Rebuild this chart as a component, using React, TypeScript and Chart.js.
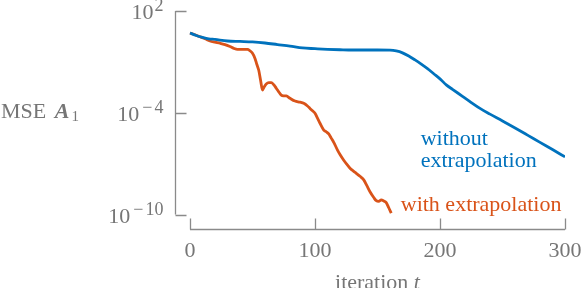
import React, { useEffect, useRef } from "react";
import { Chart, registerables } from "chart.js";

Chart.register(...registerables);

// iteration t and MSE for the run "with extrapolation"
const T_WITH = [0, 4, 8, 12, 16, 20, 24, 28, 32, 35, 38, 42, 46, 48, 50, 52, 53.5, 55, 56.5, 58, 59.5, 61, 63, 65, 67, 69, 71, 73, 75, 77, 80, 84, 88, 91, 94, 96, 98, 100, 102, 104, 107, 109, 111, 113, 115, 118, 120, 123, 125, 128, 131, 133, 136, 139, 141.5, 144, 147, 149, 151, 153, 155, 157, 159, 161];
const MSE_WITH = [5.0, 4.0, 3.0, 2.3, 1.7, 1.45, 1.26, 1.05, 0.8, 0.63, 0.55, 0.55, 0.55, 0.45, 0.32, 0.16, 0.07, 0.032, 0.008, 2.2e-3, 3.5e-3, 5.0e-3, 5.9e-3, 5.9e-3, 4.5e-3, 2.8e-3, 1.7e-3, 1.1e-3, 1.0e-3, 9.8e-4, 7.1e-4, 4.9e-4, 4.2e-4, 3.6e-4, 2.5e-4, 1.8e-4, 1.3e-4, 9.3e-5, 4.8e-5, 2.4e-5, 9.5e-6, 7.6e-6, 5.6e-6, 3.2e-6, 1.8e-6, 6.3e-7, 3.5e-7, 1.6e-7, 1.0e-7, 5.4e-8, 3.5e-8, 2.7e-8, 1.8e-8, 1.1e-8, 5.0e-9, 2.2e-9, 1.0e-9, 6.5e-10, 6.0e-10, 7.2e-10, 6.3e-10, 5.0e-10, 2.5e-10, 1.2e-10];

// iteration t and MSE for the run "without extrapolation"
const T_WITHOUT = [0, 5, 10, 15, 20, 30, 40, 50, 60, 70, 80, 90, 100, 110, 120, 130, 140, 150, 160, 165, 170, 175, 180, 185, 190, 195, 200, 205, 210, 218, 225, 232, 240, 250, 259, 270, 280, 290, 300];
const MSE_WITHOUT = [5.0, 3.6, 2.8, 2.3, 2.1, 1.7, 1.6, 1.5, 1.3, 1.05, 0.85, 0.66, 0.6, 0.55, 0.52, 0.5, 0.5, 0.5, 0.49, 0.44, 0.34, 0.22, 0.13, 0.074, 0.04, 0.02, 0.01, 4.4e-3, 2.4e-3, 9.3e-4, 4.0e-4, 1.8e-4, 8.3e-5, 3.3e-5, 1.4e-5, 4.8e-6, 1.8e-6, 6.8e-7, 2.5e-7];

const X_TICKS = [0, 100, 200, 300];
const Y_TICKS = [1e2, 1e-4, 1e-10];
const Y_TICK_EXPONENTS = ["2", "\u22124", "\u221210"];

const X_MIN = -12;
const X_MAX = 300;
const Y_MIN = 1.22e-11;
const Y_MAX = 1e2;

const BLUE = "#0072BD";
const ORANGE = "#D95319";
const GREY_TEXT = "#767676";
const GREY_LINE = "#8a8a8a";
const FONT = "'Liberation Serif', 'Times New Roman', serif";

const LABEL_WITHOUT = { lines: ["without", "extrapolation"], t: 184.5, mse: 1.3e-6 };
const LABEL_WITH = { lines: ["with extrapolation"], t: 168.6, mse: 1.6e-10 };

const decorPlugin = {
  id: "decor",
  afterDraw(chart: any) {
    const ctx = chart.ctx as CanvasRenderingContext2D;
    const xs = chart.scales.x;
    const ys = chart.scales.y;
    const area = chart.chartArea;
    ctx.save();

    // y axis (detached)
    const ax = Math.round(area.left) + 0.5;
    ctx.strokeStyle = GREY_LINE;
    ctx.lineWidth = 1.3;
    ctx.beginPath();
    ctx.moveTo(ax, ys.getPixelForValue(Y_TICKS[0]));
    ctx.lineTo(ax, ys.getPixelForValue(Y_TICKS[Y_TICKS.length - 1]));
    Y_TICKS.forEach((v) => {
      const py = Math.round(ys.getPixelForValue(v)) + 0.5;
      ctx.moveTo(ax, py);
      ctx.lineTo(ax + 11, py);
    });
    ctx.stroke();

    // x axis (detached)
    const ay = Math.round(area.bottom) - 0.5;
    ctx.beginPath();
    ctx.moveTo(xs.getPixelForValue(X_TICKS[0]), ay);
    ctx.lineTo(xs.getPixelForValue(X_TICKS[X_TICKS.length - 1]), ay);
    X_TICKS.forEach((v) => {
      const px = Math.round(xs.getPixelForValue(v)) + 0.5;
      ctx.moveTo(px, ay);
      ctx.lineTo(px, ay - 11);
    });
    ctx.stroke();

    // y tick labels 10^k
    ctx.fillStyle = GREY_TEXT;
    ctx.textBaseline = "alphabetic";
    Y_TICKS.forEach((v, i) => {
      const py = ys.getPixelForValue(v);
      const right = ax - 12;
      const exp = Y_TICK_EXPONENTS[i];
      ctx.font = `18px ${FONT}`;
      ctx.textAlign = "right";
      let expW = 0;
      if (exp.startsWith("\u2212")) {
        const digits = exp.slice(1);
        const dW = ctx.measureText(digits).width;
        ctx.fillText(digits, right, py);
        const mW = ctx.measureText("\u2212").width;
        ctx.fillText("\u2212", right - dW - 2, py);
        expW = dW + 2 + mW + 3;
      } else {
        ctx.fillText(exp, right, py);
        expW = ctx.measureText(exp).width + 1;
      }
      ctx.font = `22px ${FONT}`;
      ctx.fillText("10", right - expW, py + 8);
    });

    // y axis title: MSE A_1
    ctx.textAlign = "left";
    const ty = ys.getPixelForValue(1e-4) + 5;
    ctx.font = `22px ${FONT}`;
    ctx.fillText("MSE", 1, ty);
    const mseW = ctx.measureText("MSE ").width;
    ctx.font = `italic bold 22px ${FONT}`;
    ctx.fillText("A", 1 + mseW + 3, ty);
    const aW = ctx.measureText("A").width;
    ctx.font = `15px ${FONT}`;
    ctx.fillText("1", 1 + mseW + 3 + aW + 2, ty + 3);

    // x axis title: iteration t
    const cx = (xs.getPixelForValue(X_TICKS[0]) + xs.getPixelForValue(X_TICKS[X_TICKS.length - 1])) / 2;
    ctx.font = `22px ${FONT}`;
    const w1 = ctx.measureText("iteration ").width;
    ctx.font = `italic 22px ${FONT}`;
    const w2 = ctx.measureText("t").width;
    const sx = cx - (w1 + w2) / 2;
    ctx.font = `22px ${FONT}`;
    ctx.fillText("iteration ", sx, area.bottom + 59);
    ctx.font = `italic 22px ${FONT}`;
    ctx.fillText("t", sx + w1, area.bottom + 59);

    // curve labels
    ctx.font = `22px ${FONT}`;
    ctx.fillStyle = BLUE;
    LABEL_WITHOUT.lines.forEach((s, i) => {
      ctx.fillText(s, xs.getPixelForValue(LABEL_WITHOUT.t), ys.getPixelForValue(LABEL_WITHOUT.mse) + i * 22);
    });
    ctx.fillStyle = ORANGE;
    LABEL_WITH.lines.forEach((s, i) => {
      ctx.fillText(s, xs.getPixelForValue(LABEL_WITH.t), ys.getPixelForValue(LABEL_WITH.mse) + i * 22);
    });

    ctx.restore();
  },
};

export default function App() {
  const ref = useRef<HTMLCanvasElement | null>(null);
  useEffect(() => {
    if (!ref.current) return;
    const chart = new Chart(ref.current, {
      type: "line",
      data: {
        datasets: [
          {
            label: "without extrapolation",
            data: T_WITHOUT.map((t, i) => ({ x: t, y: MSE_WITHOUT[i] })),
            borderColor: BLUE,
            borderWidth: 2.8,
            pointRadius: 0,
            cubicInterpolationMode: "monotone",
            fill: false,
          },
          {
            label: "with extrapolation",
            data: T_WITH.map((t, i) => ({ x: t, y: MSE_WITH[i] })),
            borderColor: ORANGE,
            borderWidth: 2.8,
            pointRadius: 0,
            cubicInterpolationMode: "monotone",
            fill: false,
          },
        ],
      },
      options: {
        animation: false,
        responsive: false,
        layout: { padding: { top: 11, right: 19, left: 0, bottom: 0 } },
        plugins: { legend: { display: false }, tooltip: { enabled: false } },
        scales: {
          x: {
            type: "linear",
            min: X_MIN,
            max: X_MAX,
            grid: { display: false, drawTicks: false },
            border: { display: false },
            afterBuildTicks: (s: any) => {
              s.ticks = X_TICKS.map((v) => ({ value: v }));
            },
            afterFit: (s: any) => {
              s.height = 58;
              s.paddingLeft = 0;
              s.paddingRight = 0;
            },
            ticks: {
              color: GREY_TEXT,
              font: { family: FONT, size: 22 },
              padding: 8,
              maxRotation: 0,
              callback: (v: any) => String(v),
            },
          },
          y: {
            type: "logarithmic",
            min: Y_MIN,
            max: Y_MAX,
            grid: { display: false, drawTicks: false },
            border: { display: false },
            afterBuildTicks: (s: any) => {
              s.ticks = Y_TICKS.map((v) => ({ value: v }));
            },
            afterFit: (s: any) => {
              s.width = 175;
              s.paddingTop = 0;
              s.paddingBottom = 0;
            },
            ticks: { display: false },
          },
        },
      },
      plugins: [decorPlugin],
    });
    return () => chart.destroy();
  }, []);
  return (
    <div style={{ position: "fixed", left: 0, top: 0, width: 584, height: 288, background: "#fff" }}>
      <canvas ref={ref} width={584} height={288} style={{ width: 584, height: 288 }} />
    </div>
  );
}
